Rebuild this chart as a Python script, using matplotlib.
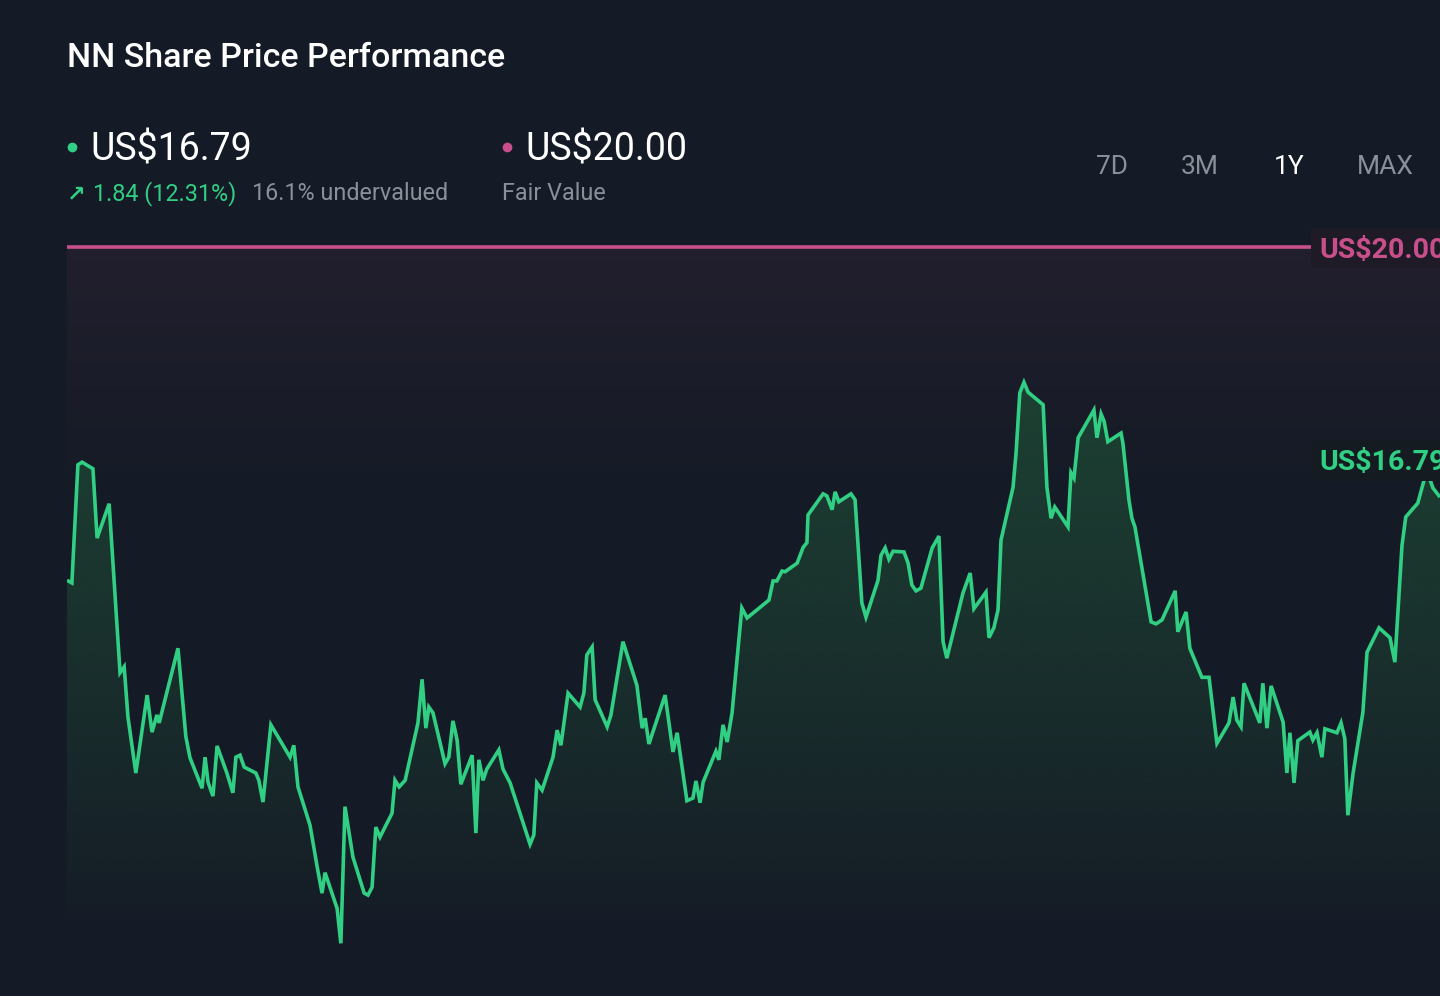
import numpy as np
import matplotlib.pyplot as plt
from matplotlib.patches import FancyBboxPatch

# ── data: days since start of the 1Y window, close price (US$) ────────────
days = [0, 1.3, 2.9, 4.0, 6.9, 8.0, 11.2, 14.1, 15.2, 16.2, 18.3, 21.3, 22.6, 23.9, 24.5,
        29.5, 31.6, 32.7, 35.9, 36.7, 37.5, 38.8, 39.9, 42.5, 44.1, 44.9, 46.0, 47.1, 50.2,
        51.0, 52.1, 54.2, 59.3, 60.3, 61.4, 64.6, 66.5, 67.8, 68.6, 71.8, 72.8, 73.9, 76.0,
        79.0, 80.0, 81.1, 82.1, 83.2, 86.4, 87.2, 88.3, 89.9, 93.3, 94.4, 95.4, 96.2, 97.3,
        100.5, 101.5, 102.6, 103.7, 104.7, 107.7, 108.7, 109.5, 110.6, 111.6, 114.8, 115.9,
        117.8, 123.1, 124.1, 124.9, 126.3, 129.2, 130.3, 131.3, 133.2, 136.4, 137.4, 138.2,
        139.6, 140.4, 143.6, 144.6, 147.8, 151.5, 152.9, 153.7, 154.7, 159.0, 161.1, 162.2,
        164.8, 166.4, 167.2, 168.3, 169.1, 172.5, 173.3, 174.4, 175.5, 176.8, 179.4, 180.8,
        186.6, 187.7, 188.7, 190.1, 190.9, 194.1, 195.7, 196.7, 197.0, 201.0, 202.0, 203.4,
        204.2, 205.2, 208.4, 209.5, 211.3, 212.4, 215.6, 216.4, 217.5, 218.5, 219.6, 222.5,
        223.6, 224.6, 225.7, 227.0, 230.0, 231.8, 232.9, 233.9, 238.2, 240.1, 241.1, 244.3,
        245.1, 246.4, 247.5, 248.3, 251.5, 252.3, 253.3, 254.4, 255.5, 259.5, 260.5, 261.6,
        262.6, 266.1, 266.9, 267.7, 268.8, 270.1, 273.0, 273.8, 274.9, 275.7, 276.7, 280.2,
        280.7, 282.3, 283.1, 283.9, 288.2, 289.5, 291.1, 294.6, 295.3, 297.5, 298.5, 301.7,
        303.6, 305.7, 308.9, 310.0, 311.0, 312.1, 312.9, 317.1, 317.9, 319.0, 320.1, 323.3,
        324.3, 325.1, 326.2, 327.2, 330.4, 331.2, 332.3, 333.6, 334.4, 337.6, 338.7, 339.7,
        340.5, 341.9, 344.5, 345.6, 348.8, 351.7, 353.0, 354.9, 355.9, 359.1, 360.2, 361.5,
        363.1, 365.0]
price = [14.95, 14.91, 16.70, 16.74, 16.64, 15.59, 16.11, 13.55, 13.64, 12.88, 12.03, 13.21,
         12.65, 12.91, 12.79, 13.92, 12.58, 12.26, 11.80, 12.27, 11.89, 11.68, 12.44, 12.03,
         11.73, 12.27, 12.30, 12.12, 12.03, 11.92, 11.59, 12.76, 12.27, 12.45, 11.82, 11.24,
         10.61, 10.21, 10.52, 9.98, 9.45, 11.52, 10.76, 10.21, 10.18, 10.30, 11.21, 11.06,
         11.42, 11.92, 11.82, 11.92, 12.79, 13.45, 12.71, 13.03, 12.94, 12.17, 12.27, 12.82,
         12.53, 11.86, 12.30, 11.12, 12.23, 11.92, 12.09, 12.38, 12.09, 11.88, 10.95, 11.09,
         11.88, 11.77, 12.27, 12.68, 12.45, 13.24, 13.03, 13.24, 13.82, 13.94, 13.14, 12.73,
         12.91, 14.02, 13.36, 12.71, 12.86, 12.47, 13.21, 12.35, 12.64, 11.61, 11.65, 11.91,
         11.58, 11.89, 12.36, 12.23, 12.76, 12.50, 12.94, 14.53, 14.38, 14.65, 14.94, 14.94,
         15.09, 15.08, 15.21, 15.45, 15.52, 15.94, 16.26, 16.23, 16.02, 16.29, 16.14, 16.26,
         16.17, 14.61, 14.39, 14.95, 15.33, 15.44, 15.27, 15.39, 15.38, 15.21, 14.88, 14.79,
         14.83, 15.44, 15.62, 14.02, 13.77, 14.76, 15.06, 14.52, 14.77, 14.08, 14.23, 14.50,
         15.56, 16.36, 16.88, 17.79, 17.95, 17.80, 17.61, 16.36, 15.89, 16.06, 15.76, 16.58,
         16.50, 17.11, 17.24, 17.53, 17.11, 17.47, 17.36, 17.05, 17.18, 17.03, 16.17, 15.89,
         15.76, 14.32, 14.29, 14.35, 14.79, 14.17, 14.47, 13.92, 13.48, 13.48, 12.48, 12.79,
         13.18, 12.83, 12.73, 13.39, 12.79, 13.39, 12.71, 13.35, 12.80, 12.03, 12.64, 11.88,
         12.52, 12.65, 12.53, 12.64, 12.27, 12.70, 12.64, 12.79, 12.55, 11.39, 12.03, 12.95,
         13.86, 14.23, 14.08, 13.71, 15.48, 15.91, 16.12, 16.35, 16.62, 16.35, 16.21]

last_price = 16.79
fair_value = 20.00
change_txt = "1.84 (12.31%)"
undervalued_txt = "16.1% undervalued"
periods = ["7D", "3M", "1Y", "MAX"]
active_period = "1Y"

# ── style ─────────────────────────────────────────────────────────────────
BG = "#151b26"
GREEN = "#30cf83"
PINK = "#c94f8c"
GREY = "#8a9099"
FONT = ["Roboto", "DejaVu Sans"]
plt.rcParams["font.family"] = FONT

W, H = 1440, 996
fig = plt.figure(figsize=(W / 100, H / 100), dpi=100, facecolor=BG)

# chart axes: 20.00 sits at pixel row 247, ~66 px per dollar
px_per_usd = 66.0
top_px, bot_px, left_px = 230, 960, 67
y_top = fair_value + (247 - top_px) / px_per_usd
y_bot = fair_value - (bot_px - 247) / px_per_usd
ax = fig.add_axes([left_px / W, 1 - bot_px / H, (W - left_px) / W, (bot_px - top_px) / H])
ax.set_facecolor(BG)
ax.set_xlim(0, 365)
ax.set_ylim(y_bot, y_top)
ax.axis("off")

# faint pink wash under the fair value line
wash_bot = 16.3
g = np.linspace(0, 1, 256)[:, None]
pink_rgba = np.zeros((256, 1, 4))
pink_rgba[..., :3] = [0.79, 0.31, 0.55]
pink_rgba[..., 3] = 0.075 * g
ax.imshow(pink_rgba, extent=[0, 365, wash_bot, fair_value], origin="lower",
          aspect="auto", zorder=1, interpolation="bilinear")

# green gradient area under the price line
fill_bot = 9.75
poly = ax.fill_between(days, price, fill_bot, facecolor="none", edgecolor="none")
green_rgba = np.zeros((256, 1, 4))
green_rgba[..., :3] = [29 / 255, 66 / 255, 51 / 255]
green_rgba[..., 3] = g[:, 0:1] ** 0.85
im = ax.imshow(green_rgba, extent=[0, 365, fill_bot, 18.2], origin="lower",
               aspect="auto", zorder=2, interpolation="bilinear")
im.set_clip_path(poly.get_paths()[0], transform=ax.transData)

ax.plot(days, price, color=GREEN, lw=2.6, zorder=4, solid_joinstyle="miter",
        solid_capstyle="butt")
ax.axhline(fair_value, xmin=0, xmax=(1310 - left_px) / (W - left_px),
           color=PINK, lw=2.6, zorder=3)
ax.set_ylim(y_bot, y_top)

# ── overlay in pixel space for header texts and labels ────────────────────
ov = fig.add_axes([0, 0, 1, 1])
ov.set_xlim(0, W)
ov.set_ylim(H, 0)
ov.axis("off")
ov.patch.set_alpha(0)

ov.text(67, 67, "NN Share Price Performance", color="white", fontsize=24.5,
        fontweight="medium", va="baseline", ha="left")

ov.plot(72, 147, "o", color=GREEN, ms=7, mec="none")
ov.text(90, 160, f"US${last_price:.2f}", color="white", fontsize=27,
        va="baseline")
ov.text(67, 200, "\u2197", color=GREEN, fontsize=16, fontweight="bold",
        va="baseline", family=["DejaVu Sans"])
ov.text(93, 200, change_txt, color=GREEN, fontsize=16.8, va="baseline")
ov.text(252, 200, undervalued_txt, color=GREY, fontsize=16.8, va="baseline")

ov.plot(507, 147, "o", color=PINK, ms=7, mec="none")
ov.text(525, 160, f"US${fair_value:.2f}", color="white", fontsize=27,
        va="baseline")
ov.text(502, 200, "Fair Value", color=GREY, fontsize=16.8, va="baseline")

tab_x = [1112, 1200, 1289, 1385]
for lab, tx in zip(periods, tab_x):
    ov.text(tx, 174, lab, color="white" if lab == active_period else GREY,
            fontsize=19, ha="center", va="baseline")

# right-hand value tags
ov.add_patch(FancyBboxPatch((1311, 228), 160, 40, boxstyle="round,pad=0,rounding_size=5",
                            fc="#1e1b27", ec="none", zorder=5))
ov.text(1319, 258, f"US${fair_value:.2f}", color=PINK, fontsize=20.5, fontweight="bold",
        va="baseline", zorder=6)
ov.add_patch(FancyBboxPatch((1311, 440), 160, 41, boxstyle="round,pad=0,rounding_size=5",
                            fc="#141c22", ec="none", zorder=5))
ov.text(1319, 470, f"US${last_price:.2f}", color=GREEN, fontsize=20.5, fontweight="bold",
        va="baseline", zorder=6)

fig.savefig("out.png", dpi=100, facecolor=BG)
